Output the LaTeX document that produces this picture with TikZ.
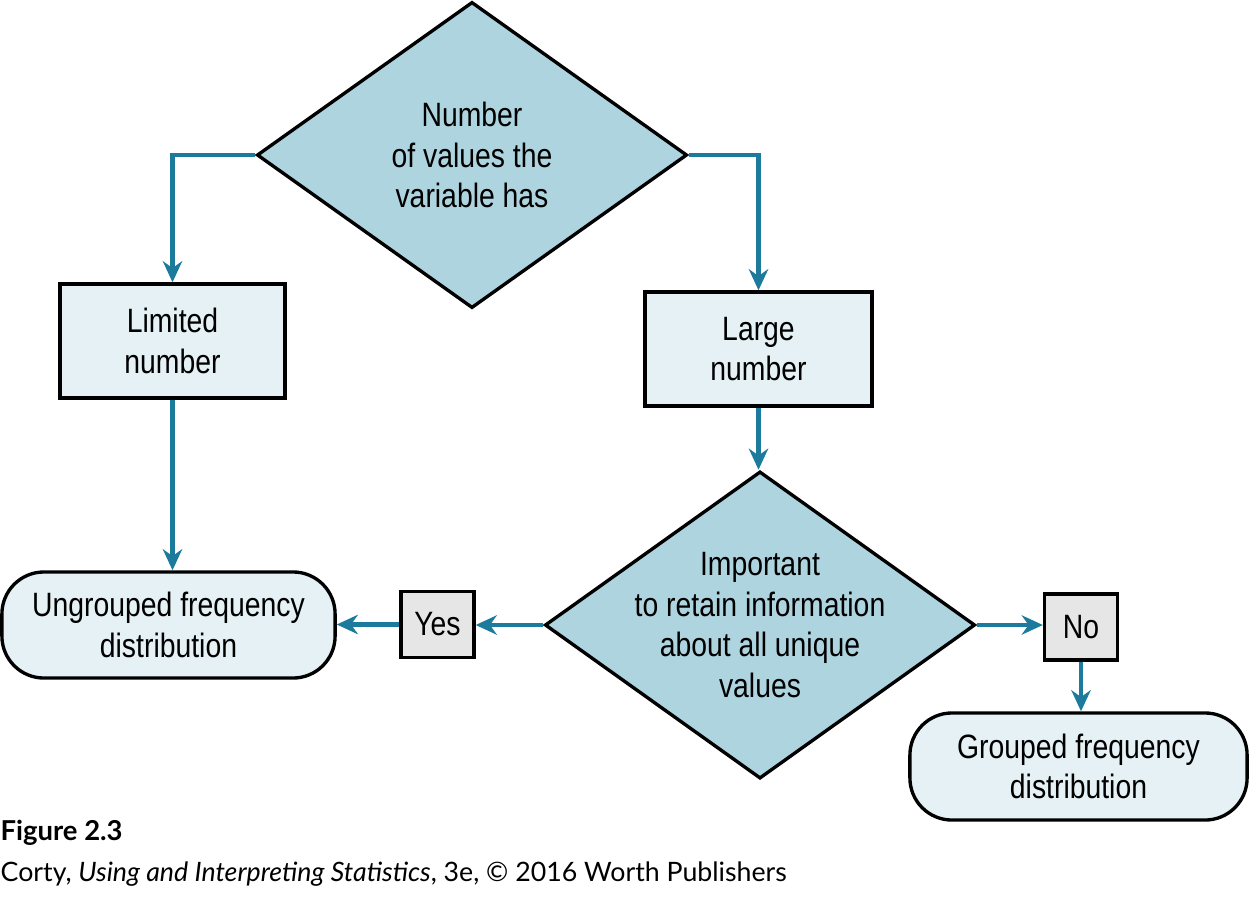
\documentclass[tikz,border=0pt]{standalone}
\usepackage{fontspec}
\setmainfont[FakeStretch=0.84]{Liberation Sans}
\newfontfamily\capfont{Lato}
\usetikzlibrary{shapes.geometric,arrows.meta}
\definecolor{decfill}{HTML}{ADD4DF}
\definecolor{boxfill}{HTML}{E5F1F5}
\definecolor{tagfill}{HTML}{E6E6E6}
\definecolor{flow}{HTML}{1C7A9C}

\begin{document}
\begin{tikzpicture}[x=0.01cm, y=-0.01cm,
      every node/.style={font=\fontsize{9.6}{11.6}\selectfont, align=center},
      decision/.style={diamond, draw=black, fill=decfill, line width=0.95pt, inner sep=0pt},
      decisiontext/.style={label={[align=center, font=\fontsize{9.6}{11.6}\selectfont]center:#1}},
      outcome/.style={rectangle, draw=black, fill=boxfill, line width=0.95pt, inner sep=0pt},
      result/.style={rectangle, rounded corners=0.42cm, draw=black, fill=boxfill, line width=0.95pt, inner sep=0pt},
      tag/.style={rectangle, draw=black, fill=tagfill, line width=0.95pt, inner sep=0pt, minimum width=0.73cm, minimum height=0.66cm},
      flowline/.style={draw=flow, line width=1.15pt, -{Stealth[length=6pt,width=5.5pt]}}]
      \useasboundingbox (0,0) rectangle (1249,900);

      % --- Decisions ---
      \node[decision, minimum width=4.30cm, minimum height=3.06cm,
            decisiontext={Number\\of values the\\variable has}] (values) at (472,155) {};
      \node[decision, minimum width=4.30cm, minimum height=3.07cm,
            decisiontext={Important\\to retain information\\about all unique\\values}] (retain) at (760,625) {};

      % --- Number of values ---
      \node[outcome, minimum width=2.25cm, minimum height=1.14cm] (limited) at (172.5,341) {Limited\\number};
      \node[outcome, minimum width=2.27cm, minimum height=1.14cm] (large) at (758.5,349) {Large\\number};

      % --- Answers ---
      \node[tag] (yes) at (437.5,624.5) {Yes};
      \node[tag] (no) at (1081,627) {No};

      % --- Distributions ---
      \node[result, minimum width=3.33cm, minimum height=1.06cm] (ungrouped) at (168.5,625) {Ungrouped frequency\\distribution};
      \node[result, minimum width=3.37cm, minimum height=1.07cm] (grouped) at (1078.5,766.5) {Grouped frequency\\distribution};

      % --- Connectors ---
      \draw[flowline] (values.west) -| (limited.north);
      \draw[flowline] (values.east) -| (large.north);
      \draw[flowline] (limited.south) -- (limited.south |- ungrouped.north);
      \draw[flowline] (large.south) -- (large.south |- retain.north);
      \draw[flowline] (retain.west) -- (retain.west -| yes.east);
      \draw[flowline] (yes.west) -- (yes.west -| ungrouped.east);
      \draw[flowline] (retain.east) -- (retain.east -| no.west);
      \draw[flowline] (no.south) -- (no.south |- grouped.north);

      % --- Caption ---
      \node[anchor=base west, inner sep=0pt, font=\capfont\bfseries\fontsize{7.8}{9}\selectfont] (figno) at (0,840) {Figure 2.3};
      \node[anchor=base west, inner sep=0pt, font=\capfont\fontsize{7.6}{9}\selectfont] (source) at (0,881) {Corty, \textit{Using and Interpreting Statistics}, 3e, \textcopyright{} 2016 Worth Publishers};
    \end{tikzpicture}
\end{document}
